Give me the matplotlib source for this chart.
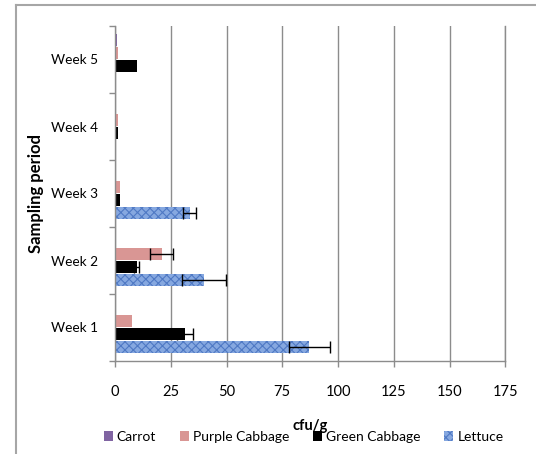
import matplotlib
matplotlib.use("Agg")
import matplotlib.pyplot as plt
import numpy as np
from matplotlib.lines import Line2D

plt.rcParams['font.family'] = ['Lato', 'DejaVu Sans']
plt.rcParams['hatch.linewidth'] = 0.8

weeks = ["Week 1", "Week 2", "Week 3", "Week 4", "Week 5"]
series = ["Carrot", "Purple Cabbage", "Green Cabbage", "Lettuce"]
carrot = [0.0, 0.0, 0.0, 0.0, 0.9]
purple_cabbage = [7.5, 20.9, 2.2, 1.2, 1.2]
green_cabbage = [31.4, 9.7, 2.2, 1.2, 9.7]
lettuce = [87.0, 39.9, 33.6, 0.0, 0.0]
err_carrot = [0, 0, 0, 0, 0]
err_purple = [0, 5.2, 0, 0, 0]
err_green = [3.5, 1.0, 0, 0, 0]
err_lettuce = [9.2, 10.0, 2.9, 0, 0]
xticks = [0, 25, 50, 75, 100, 125, 150, 175]

values = [carrot, purple_cabbage, green_cabbage, lettuce]
errors = [err_carrot, err_purple, err_green, err_lettuce]
colors = ["#8064a2", "#d99694", "#000000", "#86a8e0"]
offsets = [0.291, 0.097, -0.097, -0.291]

fig = plt.figure(figsize=(5.36, 4.54), dpi=100)
ax = fig.add_axes([115/536, (454-361)/454, (505.3-115)/536, (361-26)/454])

y = np.arange(len(weeks))
gray = "#8c8c8c"
for vals, errs, col, off, name in zip(values, errors, colors, offsets, series):
    if name == "Lettuce":
        kw = dict(hatch="xxxx", edgecolor="#4f79c4", linewidth=0)
    else:
        kw = dict(linewidth=0)
    ax.barh(y + off, vals, height=0.165, color=col, label=name, zorder=3, **kw)
    ev = np.array(errs, dtype=float)
    mask = ev > 0
    if mask.any():
        ax.errorbar(np.array(vals)[mask], (y + off)[mask], xerr=ev[mask], fmt="none",
                    ecolor="black", elinewidth=1, capsize=4.5, capthick=1, zorder=4)

ax.set_xlim(0, 175)
ax.set_ylim(-0.5, 4.5)
ax.set_xticks(xticks)
ax.set_xticklabels([str(t) for t in xticks], fontsize=10.5)
ax.set_yticks(y)
ax.set_yticklabels(weeks, fontsize=9.8)
ax.set_yticks(np.arange(-0.5, 5.0, 1.0), minor=True)
ax.tick_params(axis='y', which='major', length=0, pad=12)
ax.tick_params(axis='y', which='minor', length=4, color=gray, width=1, direction='out')
ax.tick_params(axis='x', which='major', length=4, color=gray, width=1, direction='out', pad=13)
ax.xaxis.grid(True, color=gray, linewidth=1, zorder=0)
ax.set_axisbelow(True)
ax.spines["top"].set_visible(False)
for s in ["left", "bottom", "right"]:
    ax.spines[s].set_color(gray)
    ax.spines[s].set_linewidth(1)
    ax.spines[s].set_zorder(5)

ax.set_xlabel("cfu/g", fontsize=10.5, fontweight="bold", labelpad=15)
ax.set_ylabel("Sampling period", fontsize=12, fontweight="bold", labelpad=5)

leg = ax.legend(loc="center", bbox_to_anchor=(303.5/536, (454-437)/454), bbox_transform=fig.transFigure,
                ncol=4, frameon=False, fontsize=10, handlelength=0.65, handleheight=0.65,
                handletextpad=0.3, columnspacing=1.7)

# outer chart border (left and top visible)
fig.add_artist(Line2D([16/536, 16/536], [0, 1 - 5/454], transform=fig.transFigure, color="#a6a6a6", linewidth=1.5))
fig.add_artist(Line2D([16/536, 1], [1 - 5/454, 1 - 5/454], transform=fig.transFigure, color="#a6a6a6", linewidth=1.5))

fig.savefig("out.png", dpi=100)
